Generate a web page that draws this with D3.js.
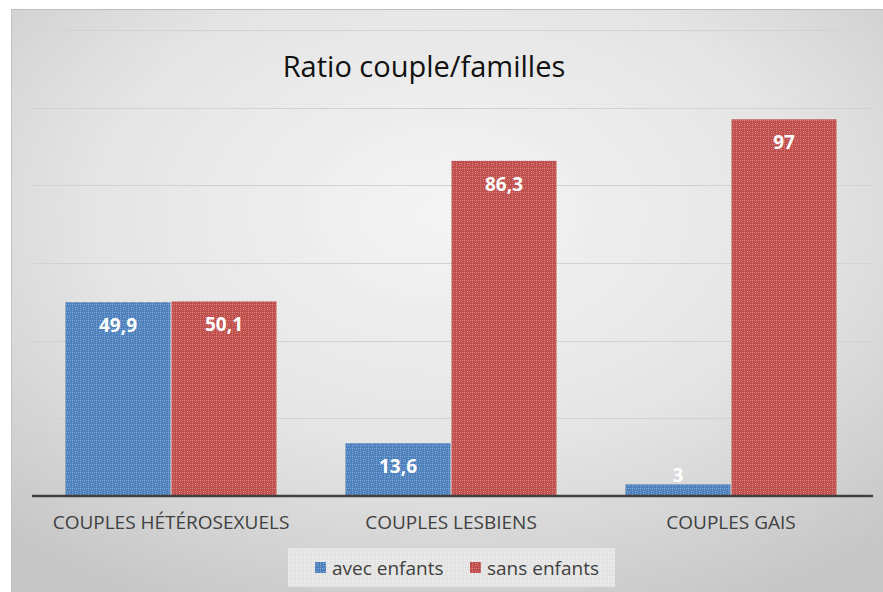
<!DOCTYPE html>
<html><head><meta charset="utf-8">
<script src="https://cdn.jsdelivr.net/npm/d3@7"></script>
<style>html,body{margin:0;padding:0;background:#fff;}svg{display:block;}</style>
</head><body>
<script>
const categories = ["COUPLES HÉTÉROSEXUELS", "COUPLES LESBIENS", "COUPLES GAIS"];
const seriesNames = ["avec enfants", "sans enfants"];
const avecEnfants = [49.9, 13.6, 3];
const sansEnfants = [50.1, 86.3, 97];
const yTicks = [0, 20, 40, 60, 80, 100, 120];
const title = "Ratio couple/familles";

const W = 883, H = 592;
const FONT = "'Open Sans', sans-serif";
const svg = d3.select("body").append("svg").attr("width", W).attr("height", H);
const defs = svg.append("defs");

const bg = defs.append("radialGradient").attr("id", "bg").attr("cx", "50%").attr("cy", "35%").attr("r", "75%");
bg.append("stop").attr("offset", "0%").attr("stop-color", "#f4f4f4");
bg.append("stop").attr("offset", "55%").attr("stop-color", "#e4e4e4");
bg.append("stop").attr("offset", "100%").attr("stop-color", "#c6c6c6");

function pattern(id, base, light) {
  const p = defs.append("pattern").attr("id", id).attr("patternUnits", "userSpaceOnUse")
    .attr("width", 8).attr("height", 8);
  p.append("rect").attr("width", 8).attr("height", 8).attr("fill", base);
  [[0,0],[2,0],[4,0],[6,0],[0,2],[0,4],[0,6],[3,3],[5,5],[3,5],[5,3]].forEach(([x,y]) => {
    p.append("rect").attr("x", x).attr("y", y).attr("width", 1).attr("height", 1).attr("fill", light).attr("opacity", 0.6);
  });
  return "url(#" + id + ")";
}
const fills = [pattern("pb", "#4f81bd", "#a9c3e6"), pattern("pr", "#c0504d", "#e6a6a4")];
const legendFill = pattern("pl", "#e3e3e3", "#f6f6f6");

svg.append("rect").attr("x", 11).attr("y", 9).attr("width", W - 11).attr("height", H - 9).attr("fill", "url(#bg)");
svg.append("line").attr("x1", 11).attr("x2", W).attr("y1", 9.5).attr("y2", 9.5).attr("stroke", "#bdbdbd");
svg.append("line").attr("x1", 11.5).attr("x2", 11.5).attr("y1", 9).attr("y2", H).attr("stroke", "#c4c4c4");

const x0 = d3.scaleBand().domain(categories).range([31, 871]).paddingInner(0).paddingOuter(0);
const y = d3.scaleLinear().domain([0, 120]).range([496, 30]);

// gridlines
svg.append("g").selectAll("line").data(yTicks.slice(1)).join("line")
  .attr("x1", 31).attr("x2", 873)
  .attr("y1", d => Math.round(y(d)) + 0.5).attr("y2", d => Math.round(y(d)) + 0.5)
  .attr("stroke", "#d2d2d2").attr("stroke-width", 1);

svg.append("text").attr("x", 424).attr("y", 77).attr("text-anchor", "middle")
  .attr("font-family", FONT).attr("font-size", 29).attr("fill", "#111")
  .text(title);

const data = categories.map((c, i) => ({ c, vals: [avecEnfants[i], sansEnfants[i]] }));
const barW = 105;
const g = svg.append("g");
data.forEach(d => {
  const cx = x0(d.c) + x0.bandwidth() / 2;
  d.vals.forEach((v, j) => {
    const bx = j === 0 ? cx - barW - 0.5 : cx + 0.5;
    g.append("rect").attr("x", bx).attr("y", y(v)).attr("width", barW).attr("height", y(0) - y(v))
      .attr("fill", fills[j]);
    g.append("text").attr("x", bx + barW / 2).attr("y", Math.min(y(v) + 30, y(0) - 14))
      .attr("text-anchor", "middle").attr("font-family", FONT)
      .attr("font-weight", "bold").attr("font-size", 19).attr("fill", "#fff")
      .text(String(v).replace(".", ","));
  });
});

// baseline axis
const xAxis = svg.append("g").attr("transform", "translate(0,496)")
  .call(d3.axisBottom(x0).tickSize(0).tickPadding(20));
xAxis.select(".domain").attr("stroke", "#404040").attr("stroke-width", 2.5).attr("d", "M32,0H873");
xAxis.selectAll("text").attr("font-family", FONT).attr("font-size", 19).attr("fill", "#404040");

// legend
const lg = svg.append("g");
lg.append("rect").attr("x", 288).attr("y", 548).attr("width", 327).attr("height", 39).attr("fill", legendFill);
const items = [{ x: 315 }, { x: 470 }];
seriesNames.forEach((n, i) => {
  lg.append("rect").attr("x", items[i].x).attr("y", 562).attr("width", 11).attr("height", 11).attr("fill", fills[i]);
  lg.append("text").attr("x", items[i].x + 17).attr("y", 575)
    .attr("font-family", FONT).attr("font-size", 19).attr("fill", "#404040").text(n);
});
</script>
</body></html>
